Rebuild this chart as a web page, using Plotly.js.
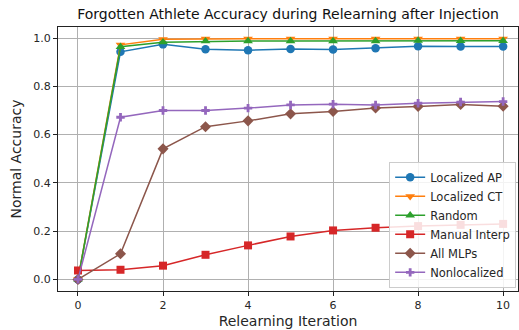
<!DOCTYPE html>
<html><head><meta charset="utf-8">
<script src="https://cdn.plot.ly/plotly-3.0.1.min.js"></script>
<style>html,body{margin:0;padding:0;background:#fff}</style>
</head><body>
<div id="chart" style="width:519px;height:330px"></div>
<script>
const iterations = [0,1,2,3,4,5,6,7,8,9,10];
const localizedAP = [0, 0.943, 0.974, 0.954, 0.950, 0.955, 0.953, 0.958, 0.966, 0.965, 0.965];
const localizedCT = [0, 0.972, 0.995, 0.997, 0.997, 0.997, 0.997, 0.997, 0.997, 0.997, 0.997];
const randomAbl = [0, 0.964, 0.983, 0.987, 0.988, 0.988, 0.988, 0.988, 0.990, 0.989, 0.989];
const manualInterp = [0.037, 0.040, 0.057, 0.102, 0.141, 0.178, 0.203, 0.214, 0.221, 0.226, 0.230];
const allMLPs = [0, 0.106, 0.541, 0.633, 0.657, 0.686, 0.696, 0.710, 0.717, 0.725, 0.718];
const nonlocalized = [0, 0.672, 0.700, 0.700, 0.710, 0.723, 0.726, 0.723, 0.730, 0.735, 0.737];

const names = ['Localized AP','Localized CT','Random','Manual Interp','All MLPs','Nonlocalized'];
const series = [localizedAP, localizedCT, randomAbl, manualInterp, allMLPs, nonlocalized];
const colors = ['#1f77b4','#ff7f0e','#2ca02c','#d62728','#8c564b','#9467bd'];
const symbols = ['circle','triangle-down','triangle-up','square','diamond','cross'];
const sizes = [8.5,8.5,8.5,8,8.5,7];

const traces = series.map((ys,i)=>({
  x: iterations, y: ys, name: names[i], type:'scatter', mode:'lines+markers',
  line:{color:colors[i], width:1.5},
  marker:{symbol:symbols[i], size:sizes[i], color:colors[i], line:{width:0}}
}));

const layout = {
  width:519, height:330,
  margin:{l:58, r:1, t:27, b:39},
  paper_bgcolor:'#fff', plot_bgcolor:'#fff',
  font:{family:'DejaVu Sans', size:11, color:'#262626'},
  title:{text:'Forgotten Athlete Accuracy during Relearning after Injection', font:{size:14, color:'#111'}, x:0.555, xanchor:'center', y:0.957, yanchor:'middle'},
  xaxis:{range:[-0.47,10.35], tickvals:[0,2,4,6,8,10], ticks:'outside', ticklen:4, tickcolor:'#222',
    showgrid:true, gridcolor:'#b0b0b0', gridwidth:1, zeroline:false,
    showline:true, mirror:true, linecolor:'#222', linewidth:1,
    title:{text:'Relearning Iteration', font:{size:14}, standoff:4}},
  yaxis:{range:[-0.048,1.046], tickvals:[0,0.2,0.4,0.6,0.8,1.0], tickformat:'.1f', ticks:'outside', ticklen:4, tickcolor:'#222',
    showgrid:true, gridcolor:'#b0b0b0', gridwidth:1, zeroline:false,
    showline:true, mirror:true, linecolor:'#222', linewidth:1,
    title:{text:'Normal Accuracy', font:{size:14}, standoff:8}},
  legend:{x:0.996, y:0.012, xanchor:'right', yanchor:'bottom', bgcolor:'rgba(255,255,255,0.85)',
    bordercolor:'#cccccc', borderwidth:1, font:{size:11.5}, tracegroupgap:0, itemwidth:30},
  showlegend:true
};
Plotly.newPlot('chart', traces, layout, {displayModeBar:false, staticPlot:true});
</script>
</body></html>
